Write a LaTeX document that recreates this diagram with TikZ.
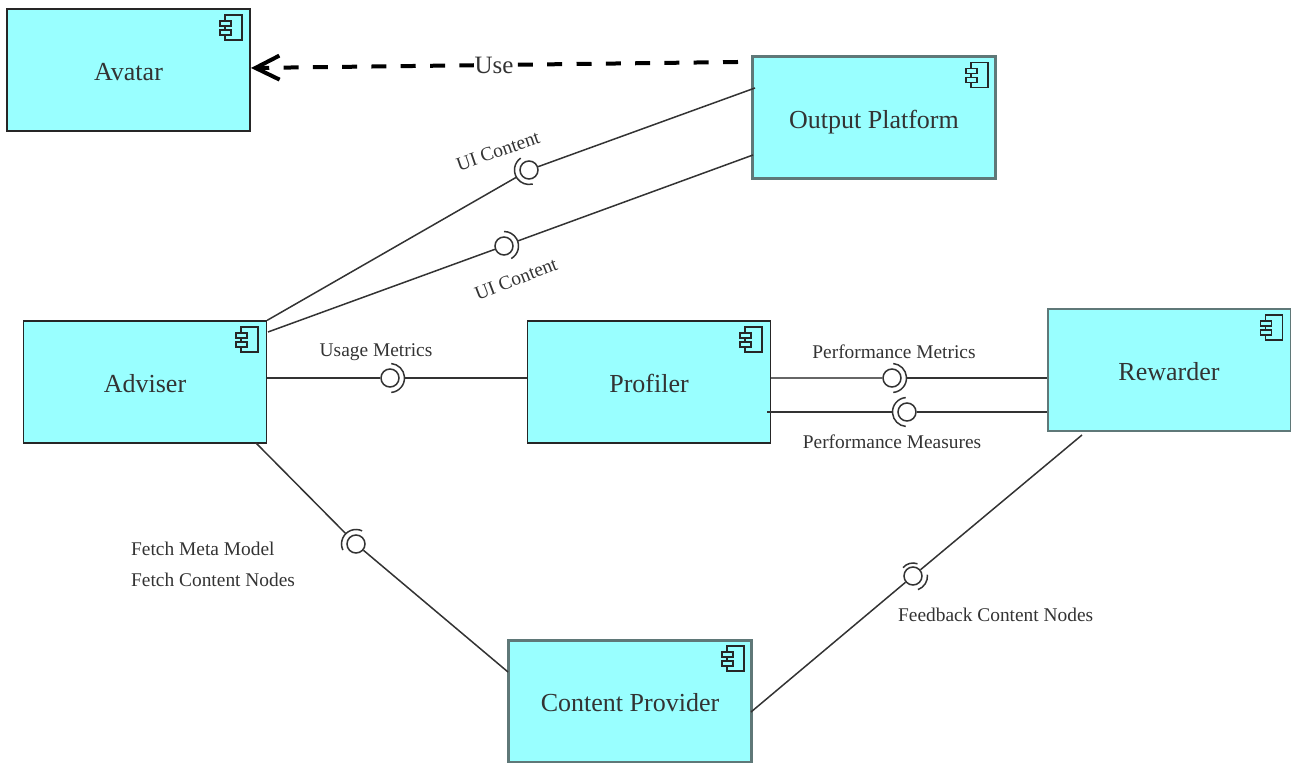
\documentclass[tikz,border=0pt]{standalone}
\usepackage{fontspec}
\setmainfont{Liberation Serif}
\usetikzlibrary{arrows.meta}

\definecolor{boxfill}{HTML}{99FFFF}
\definecolor{boxgray}{HTML}{5F7878}
\definecolor{textgray}{HTML}{333333}

\tikzset{
    comp/.style={draw=black!85, line width=1.3pt, fill=boxfill, minimum width=243pt,
        minimum height=122pt, inner sep=0pt, text=textgray, text height=21pt, text depth=0pt,
        font=\fontsize{26}{30}\selectfont},
    compgray/.style={comp, draw=boxgray, line width=3pt},
    conn/.style={draw=black!80, line width=1.5pt},
    iball/.style={circle, draw=black!80, line width=1.5pt, fill=white, minimum size=18pt, inner sep=0pt},
    isocket/.style={circle, minimum size=29pt, inner sep=0pt},
    lbl/.style={text=textgray, inner sep=0pt, font=\fontsize{19.4}{23}\selectfont},
    compicon/.pic={
        \draw[black!85, line width=1.7pt, fill=boxfill] (-26,-7) rectangle (-9,-32);
        \draw[black!85, line width=1.7pt, fill=boxfill] (-31,-13) rectangle (-20,-18);
        \draw[black!85, line width=1.7pt, fill=boxfill] (-31,-22) rectangle (-20,-27);
    }
}

% interface: ball node, socket node around it, socket arc
\newcommand{\iface}[5]{
    \node[iball] (#1B) at (#2,#3) {};
    \node[isocket] (#1S) at (#2,#3) {};
    \draw[conn] (#1B) ++(#4:14.5pt) arc[start angle=#4, end angle=#5, radius=14.5pt];
}

\begin{document}
\begin{tikzpicture}[x=1pt, y=1pt]
    \useasboundingbox (0,0) rectangle (1291,763);

    % Components
    \node[comp] (avatar) at (128.5,693) {Avatar};
    \node[compgray] (output) at (874,645) {Output Platform};
    \node[comp] (adviser) at (145,381) {Adviser};
    \node[comp] (profiler) at (649,381) {Profiler};
    \node[compgray, line width=2pt] (rewarder) at (1169,393) {Rewarder};
    \node[compgray] (provider) at (630,61.5) {Content Provider};

    \pic at (avatar.north east) {compicon};
    \pic at (output.north east) {compicon};
    \pic at (adviser.north east) {compicon};
    \pic at (profiler.north east) {compicon};
    \pic at (rewarder.north east) {compicon};
    \pic at (provider.north east) {compicon};

    % Connector ends on the box edges
    \coordinate (useStart) at (738,701);
    \coordinate (useEnd) at (251,695);
    \coordinate (outputA) at (755,675);
    \coordinate (outputB) at (753,608);
    \coordinate (adviserB) at (268,431);
    \coordinate (adviserC) at (256,320);
    \coordinate (providerA) at (508,91);
    \coordinate (providerB) at (751,51);
    \coordinate (rewarderA) at (1082,328);
    \coordinate (profilerB) at (767,351);

    % Use dependency
    \draw[black, line width=4pt, dash pattern=on 15pt off 14.3pt, -{Straight Barb[length=24pt, width=24pt, line width=4pt]}]
        (useStart) -- node[pos=0.501, fill=white, inner sep=1pt, text=textgray, font=\fontsize{25}{28}\selectfont] (useLabel) {Use} (useEnd);

    % Interfaces
    \iface{uiA}{529}{593}{125}{285}
    \iface{uiB}{504}{517}{-60}{90}
    \iface{usage}{390}{385}{-85}{85}
    \iface{metrics}{892}{385}{-85}{85}
    \iface{measures}{907}{351}{95}{265}
    \iface{fetch}{356}{219}{65}{205}
    \iface{feedback}{913}{187}{-70}{5}
    \draw[conn] (feedbackB) ++(70:13pt) arc[start angle=70, end angle=140, radius=13pt];

    % Connectors
    \draw[conn] (adviser.north east) -- (uiAS);
    \draw[conn] (uiAB) -- (outputA);
    \draw[conn] (adviserB) -- (uiBB);
    \draw[conn] (uiBS) -- (outputB);
    \draw[conn] (adviser.east |- usageB) -- (usageB);
    \draw[conn] (usageS) -- (usageS -| profiler.west);
    \draw[draw=black!60, line width=2.8pt] (profiler.east |- metricsB) -- (metricsB);
    \draw[conn] (metricsS) -- (metricsS -| rewarder.west);
    \draw[conn] (profilerB) -- (measuresS);
    \draw[conn] (measuresB) -- (measuresB -| rewarder.west);
    \draw[conn] (adviserC) -- (fetchS);
    \draw[conn] (fetchB) -- (providerA);
    \draw[conn] (providerB) -- (feedbackB);
    \draw[conn] (feedbackB) -- (rewarderA);

    % Labels
    \node[lbl, rotate=19] (uiAlabel) at (498,612) {UI Content};
    \node[lbl, rotate=21] (uiBlabel) at (516,484) {UI Content};
    \node[lbl] (usagelabel) at (376,410.5) {Usage Metrics};
    \node[lbl] (metricslabel) at (894,411) {Performance Metrics};
    \node[lbl] (measureslabel) at (892,321) {Performance Measures};
    \node[lbl, anchor=west] (fetchlabelA) at (131,214) {Fetch Meta Model};
    \node[lbl, anchor=west] (fetchlabelB) at (131,183) {Fetch Content Nodes};
    \node[lbl, anchor=west] (feedbacklabel) at (898,148) {Feedback Content Nodes};
\end{tikzpicture}
\end{document}
